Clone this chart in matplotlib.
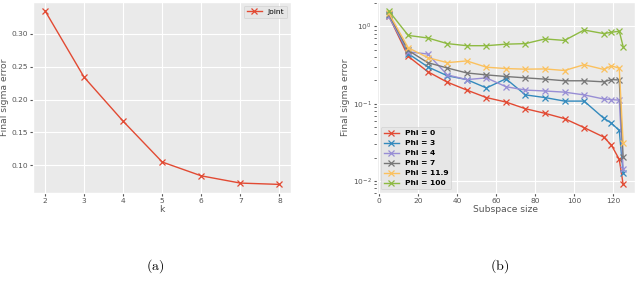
import numpy as np
import matplotlib
matplotlib.use('Agg')
import matplotlib.pyplot as plt

plt.style.use('ggplot')

# left panel
k = [2, 3, 4, 5, 6, 7, 8]
joint = [0.335, 0.234, 0.167, 0.105, 0.084, 0.073, 0.071]

# right panel
subspace = [5, 15, 25, 35, 45, 55, 65, 75, 85, 95, 105, 115, 119, 123, 125]
phi_labels = ['Phi = 0', 'Phi = 3', 'Phi = 4', 'Phi = 7', 'Phi = 11.9', 'Phi = 100']
phi_0 = [1.38, 0.41, 0.26, 0.19, 0.15, 0.12, 0.105, 0.086, 0.075, 0.064, 0.049, 0.037, 0.029, 0.019, 0.009]
phi_3 = [1.40, 0.445, 0.30, 0.23, 0.205, 0.16, 0.21, 0.13, 0.12, 0.108, 0.108, 0.065, 0.056, 0.045, 0.0127]
phi_4 = [1.35, 0.47, 0.44, 0.236, 0.205, 0.216, 0.166, 0.15, 0.146, 0.141, 0.13, 0.115, 0.113, 0.111, 0.0143]
phi_7 = [1.45, 0.49, 0.34, 0.29, 0.25, 0.236, 0.225, 0.216, 0.208, 0.198, 0.198, 0.192, 0.205, 0.203, 0.0204]
phi_119 = [1.50, 0.53, 0.395, 0.34, 0.358, 0.297, 0.285, 0.28, 0.282, 0.269, 0.32, 0.278, 0.309, 0.288, 0.031]
phi_100 = [1.60, 0.766, 0.71, 0.60, 0.564, 0.564, 0.59, 0.60, 0.69, 0.66, 0.90, 0.81, 0.84, 0.87, 0.55]

fig = plt.figure(figsize=(6.4, 2.93), dpi=100)
fig.patch.set_facecolor('white')

ax1 = fig.add_axes([0.052, 0.341, 0.403, 0.652])
ax2 = fig.add_axes([0.589, 0.341, 0.403, 0.652])

ax1.plot(k, joint, marker='x', lw=1.0, ms=4.5, mew=0.9, label='Joint')
ax1.set_xlabel('k', fontsize=6.6, labelpad=1)
ax1.set_ylabel('Final sigma error', fontsize=6.6, labelpad=2)
ax1.legend(loc='upper right', prop={'size': 5.4})

series = [phi_0, phi_3, phi_4, phi_7, phi_119, phi_100]
for vals, lab in zip(series, phi_labels):
    ax2.plot(subspace, vals, marker='x', lw=1.0, ms=4.5, mew=0.9, label=lab)
ax2.set_yscale('log')
ax2.set_xlabel('Subspace size', fontsize=6.6, labelpad=1)
ax2.set_ylabel('Final sigma error', fontsize=6.6, labelpad=2)
ax2.legend(loc='lower left', prop={'weight': 'bold', 'size': 5.4})

for ax in (ax1, ax2):
    ax.set_facecolor('#EAEAEA')
    ax.tick_params(labelsize=5.4, length=2, pad=1.5)

fig.text(0.242, 0.092, r'$\mathrm{(a)}$', fontsize=10, ha='center', va='center',
         math_fontfamily='cm')
fig.text(0.781, 0.092, r'$\mathrm{(b)}$', fontsize=10, ha='center', va='center',
         math_fontfamily='cm')

fig.savefig('out.png', dpi=100, facecolor='white')
